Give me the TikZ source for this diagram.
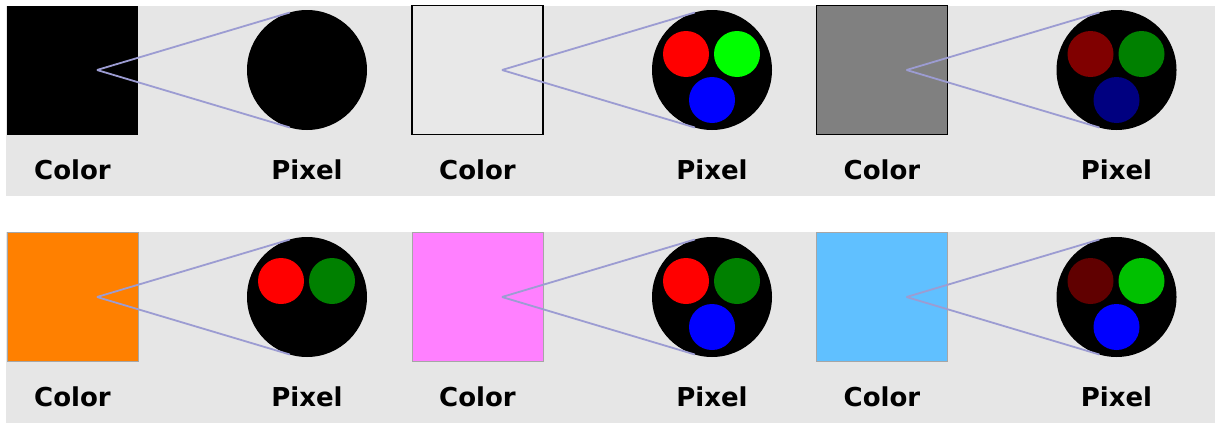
\documentclass[tikz,border=0pt]{standalone}
\usepackage{fontspec}
\setsansfont{DejaVu Sans}
\usetikzlibrary{calc}
\definecolor{panelbg}{HTML}{E6E6E6}
\definecolor{whitesw}{HTML}{E8E8E8}
\definecolor{graysw}{HTML}{808080}
\definecolor{orangesw}{HTML}{FF8000}
\definecolor{pinksw}{HTML}{FF80FF}
\definecolor{bluesw}{HTML}{60C0FF}
\definecolor{raycol}{HTML}{9C9CD2}
\definecolor{rFF}{HTML}{FF0000}
\definecolor{r80}{HTML}{800000}
\definecolor{r60}{HTML}{600000}
\definecolor{gFF}{HTML}{00FF00}
\definecolor{g80}{HTML}{008000}
\definecolor{gC0}{HTML}{00C000}
\definecolor{bFF}{HTML}{0000FF}
\definecolor{b80}{HTML}{000080}
\tikzset{
  swatch/.style={rectangle, minimum width=131pt, minimum height=129pt, inner sep=0pt, outer sep=0pt},
  framed/.style={draw=black, line width=1.8pt},
  thinframe/.style={draw=black!35, line width=0.6pt},
  pixel/.style={circle, fill=black, minimum size=120pt, inner sep=0pt, outer sep=0pt},
  dot/.style={circle, minimum size=46pt, inner sep=0pt, outer sep=0pt},
  ray/.style={draw=raycol, line width=1.8pt},
  lbl/.style={font=\fontsize{26}{30}\selectfont\sffamily\bfseries, inner sep=0pt, anchor=center}
}
\newcommand{\colorpixel}[4]{%
  \node[swatch,#4] (#1sq) at (#2,#3) {};
  \node[pixel] (#1px) at ($(#1sq.center)+(234.5,0)$) {};
  \coordinate (#1ap) at ($(#1sq.center)+(24.5,0)$);
  \draw[ray] (#1ap) -- (tangent cs:node=#1px,point={(#1ap)},solution=1);
  \draw[ray] (#1ap) -- (tangent cs:node=#1px,point={(#1ap)},solution=2);
  \node[lbl] (#1cl) at ($(#1sq.center)+(0,100)$) {Color};
  \node[lbl] (#1pl) at ($(#1px.center)+(0,100)$) {Pixel};
}
\begin{document}
\begin{tikzpicture}[x=1pt,y=-1pt]
\useasboundingbox[fill=white] (0,0) rectangle (1215,423);
\fill[panelbg] (6,6) rectangle (1215,196);
\fill[panelbg] (6,232) rectangle (1215,423);
% top row
\colorpixel{a}{72.5}{70}{fill=black}
\colorpixel{b}{477.5}{70}{fill=whitesw, framed}
\colorpixel{c}{882}{70}{fill=graysw, framed}
% bottom row
\colorpixel{d}{72.5}{297}{fill=orangesw, thinframe}
\colorpixel{e}{477.5}{297}{fill=pinksw, thinframe}
\colorpixel{f}{882}{297}{fill=bluesw, thinframe}
% sub-pixels
\node[dot, fill=rFF] (br) at ($(bpx.center)+(-26,-16)$) {};
\node[dot, fill=gFF] (bg) at ($(bpx.center)+(25,-16)$) {};
\node[dot, fill=bFF] (bb) at ($(bpx.center)+(0,30)$) {};
\node[dot, fill=r80] (cr) at ($(cpx.center)+(-26,-16)$) {};
\node[dot, fill=g80] (cg) at ($(cpx.center)+(25,-16)$) {};
\node[dot, fill=b80] (cb) at ($(cpx.center)+(0,30)$) {};
\node[dot, fill=rFF] (dr) at ($(dpx.center)+(-26,-16)$) {};
\node[dot, fill=g80] (dg) at ($(dpx.center)+(25,-16)$) {};
\node[dot, fill=rFF] (er) at ($(epx.center)+(-26,-16)$) {};
\node[dot, fill=g80] (eg) at ($(epx.center)+(25,-16)$) {};
\node[dot, fill=bFF] (eb) at ($(epx.center)+(0,30)$) {};
\node[dot, fill=r60] (fr) at ($(fpx.center)+(-26,-16)$) {};
\node[dot, fill=gC0] (fg) at ($(fpx.center)+(25,-16)$) {};
\node[dot, fill=bFF] (fb) at ($(fpx.center)+(0,30)$) {};
\end{tikzpicture}
\end{document}
